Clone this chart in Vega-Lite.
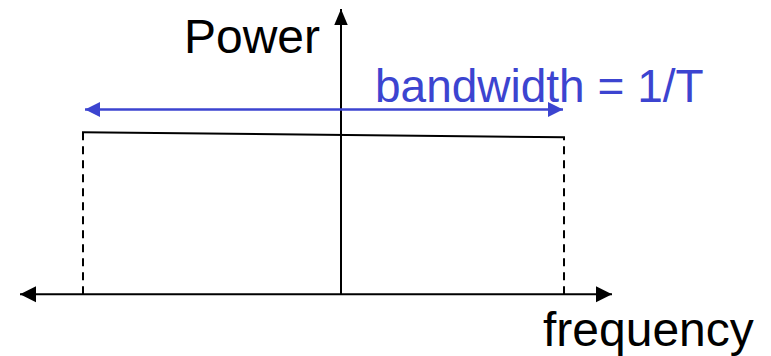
{
  "$schema": "https://vega.github.io/schema/vega-lite/v6.json",
  "width": 771,
  "height": 356,
  "autosize": {"type": "fit", "contains": "padding"},
  "padding": 0,
  "background": "white",
  "config": {"view": {"stroke": null}},
  "datasets": {
    "segments": [
      {"part": "freq_axis", "f": -0.66875, "p": 0, "f2": 0.5646, "p2": 0},
      {"part": "power_axis", "f": 0, "p": 0, "f2": 0, "p2": 1.761},
      {"part": "spectrum", "f": -0.5396, "p": 1.0, "f2": 0.4667, "p2": 0.9693},
      {"part": "edge", "f": -0.5375, "p": 0, "f2": -0.5375, "p2": 1.0},
      {"part": "edge", "f": 0.4646, "p": 0, "f2": 0.4646, "p2": 0.9693},
      {"part": "bandwidth", "f": -0.5333, "p": 1.141, "f2": 0.4625, "p2": 1.141}
    ],
    "heads": [
      {"part": "freq_axis", "dir": "left", "f": -0.66875, "p": 0},
      {"part": "freq_axis", "dir": "right", "f": 0.5646, "p": 0},
      {"part": "power_axis", "dir": "up", "f": 0, "p": 1.761},
      {"part": "bandwidth", "dir": "left", "f": -0.5333, "p": 1.141},
      {"part": "bandwidth", "dir": "right", "f": 0.4625, "p": 1.141}
    ],
    "labels": [
      {"part": "power_label", "text": "Power", "f": -0.04375, "p": 1.491},
      {"part": "bandwidth_label", "text": "bandwidth = 1/T", "f": 0.0708, "p": 1.184},
      {"part": "freq_label", "text": "frequency", "f": 0.4208, "p": -0.319}
    ]
  },
  "encoding": {
    "x": {"field": "f", "type": "quantitative", "scale": {"domain": [-0.710417, 0.895833], "nice": false, "zero": false}, "axis": null},
    "y": {"field": "p", "type": "quantitative", "scale": {"domain": [-0.368098, 1.815951], "nice": false, "zero": false}, "axis": null}
  },
  "layer": [
    {
      "data": {"name": "segments"},
      "transform": [{"filter": "datum.part === 'freq_axis' || datum.part === 'power_axis' || datum.part === 'spectrum'"}],
      "mark": {"type": "rule", "color": "black", "strokeWidth": 2},
      "encoding": {"x2": {"field": "f2"}, "y2": {"field": "p2"}}
    },
    {
      "data": {"name": "segments"},
      "transform": [{"filter": "datum.part === 'edge'"}],
      "mark": {"type": "rule", "color": "black", "strokeWidth": 2, "strokeDash": [8, 6]},
      "encoding": {"x2": {"field": "f2"}, "y2": {"field": "p2"}}
    },
    {
      "data": {"name": "segments"},
      "transform": [{"filter": "datum.part === 'bandwidth'"}],
      "mark": {"type": "rule", "color": "#3c44d0", "strokeWidth": 2.5},
      "encoding": {"x2": {"field": "f2"}, "y2": {"field": "p2"}}
    },
    {
      "data": {"name": "heads"},
      "transform": [{"filter": "datum.part !== 'bandwidth' && datum.dir === 'right'"}],
      "mark": {"type": "point", "shape": "M0,0L-1,-0.5L-1,0.5Z", "size": 1024, "filled": true, "opacity": 1, "color": "black", "strokeWidth": 0, "angle": 0}
    },
    {
      "data": {"name": "heads"},
      "transform": [{"filter": "datum.part !== 'bandwidth' && datum.dir === 'left'"}],
      "mark": {"type": "point", "shape": "M0,0L-1,-0.5L-1,0.5Z", "size": 1024, "filled": true, "opacity": 1, "color": "black", "strokeWidth": 0, "angle": 180}
    },
    {
      "data": {"name": "heads"},
      "transform": [{"filter": "datum.dir === 'up'"}],
      "mark": {"type": "point", "shape": "M0,0L-1,-0.42L-1,0.42Z", "size": 1024, "filled": true, "opacity": 1, "color": "black", "strokeWidth": 0, "angle": 270}
    },
    {
      "data": {"name": "heads"},
      "transform": [{"filter": "datum.part === 'bandwidth' && datum.dir === 'right'"}],
      "mark": {"type": "point", "shape": "M0,0L-1,-0.5L-1,0.5Z", "size": 900, "filled": true, "opacity": 1, "color": "#3c44d0", "strokeWidth": 0, "angle": 0}
    },
    {
      "data": {"name": "heads"},
      "transform": [{"filter": "datum.part === 'bandwidth' && datum.dir === 'left'"}],
      "mark": {"type": "point", "shape": "M0,0L-1,-0.5L-1,0.5Z", "size": 900, "filled": true, "opacity": 1, "color": "#3c44d0", "strokeWidth": 0, "angle": 180}
    },
    {
      "data": {"name": "labels"},
      "transform": [{"filter": "datum.part === 'power_label'"}],
      "mark": {"type": "text", "font": "Liberation Sans", "fontSize": 48, "align": "right", "baseline": "alphabetic", "color": "black"},
      "encoding": {"text": {"field": "text"}}
    },
    {
      "data": {"name": "labels"},
      "transform": [{"filter": "datum.part === 'bandwidth_label'"}],
      "mark": {"type": "text", "font": "Liberation Sans", "fontSize": 46, "align": "left", "baseline": "alphabetic", "color": "#3c44d0"},
      "encoding": {"text": {"field": "text"}}
    },
    {
      "data": {"name": "labels"},
      "transform": [{"filter": "datum.part === 'freq_label'"}],
      "mark": {"type": "text", "font": "Liberation Sans", "fontSize": 48, "align": "left", "baseline": "alphabetic", "color": "black"},
      "encoding": {"text": {"field": "text"}}
    }
  ]
}
